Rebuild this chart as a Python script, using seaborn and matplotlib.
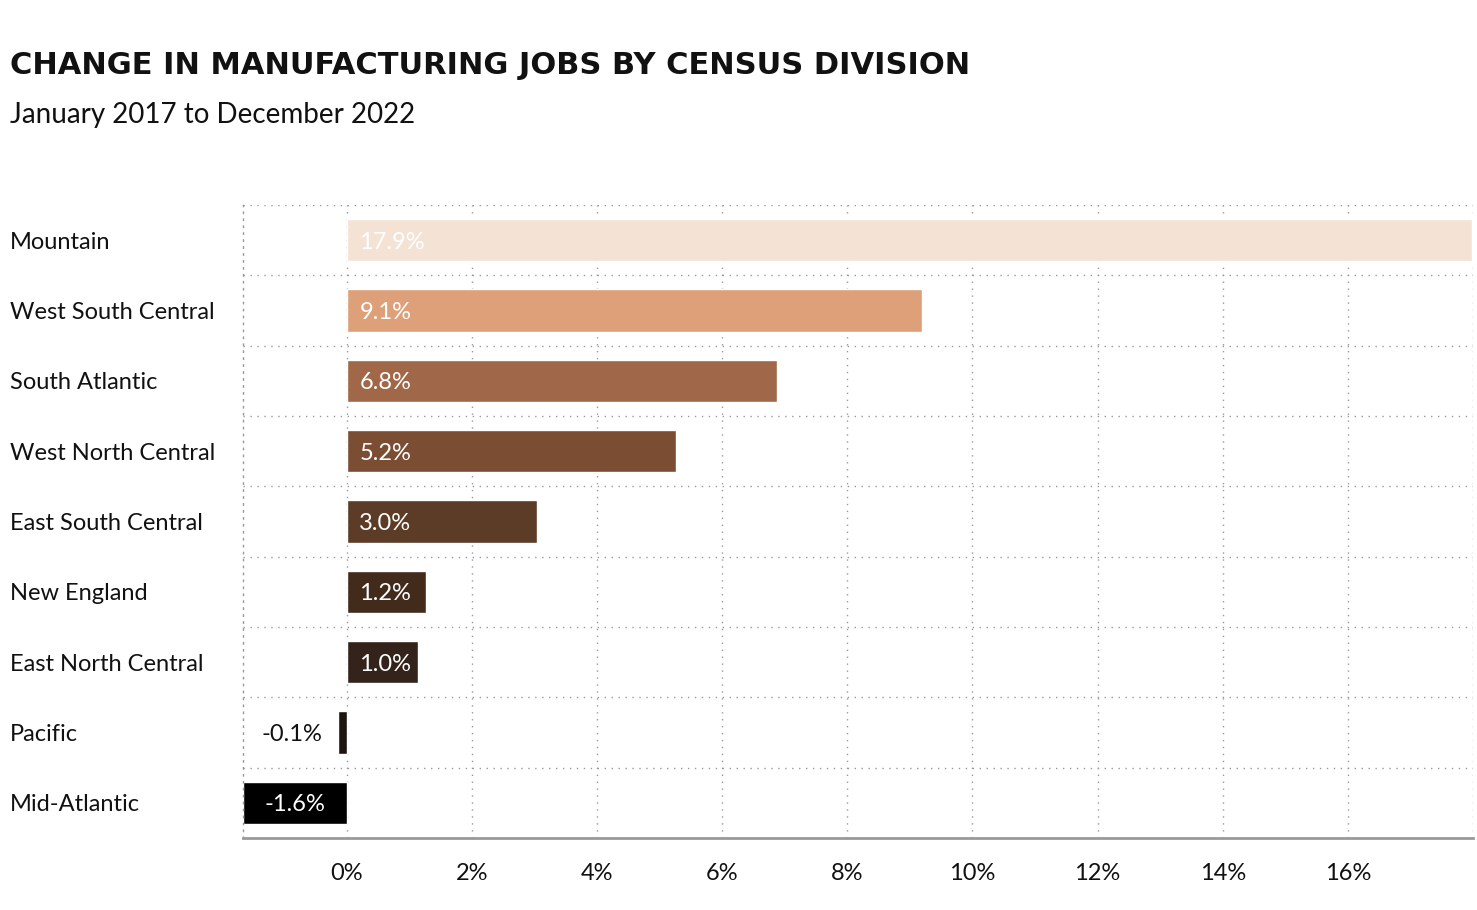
import matplotlib
matplotlib.use("Agg")
import matplotlib.pyplot as plt
import seaborn as sns
import pandas as pd

divisions = ["Mountain", "West South Central", "South Atlantic", "West North Central",
             "East South Central", "New England", "East North Central", "Pacific", "Mid-Atlantic"]
changes = [17.98, 9.19, 6.87, 5.26, 3.04, 1.26, 1.13, -0.14, -1.66]
labels = ["17.9%", "9.1%", "6.8%", "5.2%", "3.0%", "1.2%", "1.0%", "-0.1%", "-1.6%"]
colors = ["#F4E2D5", "#DDA078", "#A06848", "#7B4E33", "#5C3C26", "#432B1C", "#33231A", "#1E1510", "#000000"]
xticks = [0, 2, 4, 6, 8, 10, 12, 14, 16]
xticklabels = ["0%", "2%", "4%", "6%", "8%", "10%", "12%", "14%", "16%"]

sns.set_theme(style="white")
plt.rcParams['font.family'] = ['Lato', 'DejaVu Sans']

df = pd.DataFrame({"division": divisions, "change": changes})

fig = plt.figure(figsize=(14.77, 9.10), dpi=100)
ax = fig.add_axes([243/1477, 72/910, (1473-243)/1477, (838-205)/910])

sns.barplot(data=df, x="change", y="division", hue="division", palette=colors,
            order=divisions, hue_order=divisions, orient="h", width=0.6,
            legend=False, ax=ax, saturation=1)

ax.set_xlim(-1.66, 18.0)
ax.set_ylim(len(divisions) - 0.5, -0.5)
ax.set_xlabel("")
ax.set_ylabel("")

# grid
for xv in xticks + [18]:
    ax.axvline(xv, color="#999999", lw=1.0, ls=(0, (1, 4)), zorder=0)
for i in range(len(divisions)):
    ax.axhline(i - 0.5, color="#999999", lw=1.0, ls=(0, (1, 4)), zorder=0)

for s in ["top", "right"]:
    ax.spines[s].set_visible(False)
ax.spines["left"].set_color("#999999")
ax.spines["left"].set_linestyle((0, (1, 4)))
ax.spines["left"].set_linewidth(1.0)
ax.spines["bottom"].set_color("#999999")
ax.spines["bottom"].set_linewidth(2)

ax.set_xticks(xticks)
ax.set_xticklabels(xticklabels, fontsize=17, color="#111111")
ax.tick_params(axis="x", length=0, pad=18)
ax.set_yticks(range(len(divisions)))
ax.set_yticklabels([])
ax.tick_params(axis="y", length=0)

for i, (d, v, lab) in enumerate(zip(divisions, changes, labels)):
    ax.annotate(d, xy=(0, i), xycoords=("figure fraction", "data"), xytext=(10, -2),
                textcoords="offset pixels", ha="left", va="center", fontsize=17, color="#111111")
    if v >= 0.5:
        ax.annotate(lab, xy=(0.2, i), xytext=(0, -2), textcoords="offset pixels",
                    ha="left", va="center", fontsize=17, color="white")
    elif v < -1:
        ax.annotate(lab, xy=(v / 2, i), xytext=(0, -2), textcoords="offset pixels",
                    ha="center", va="center", fontsize=17, color="white")
    else:
        ax.annotate(lab, xy=(v - 0.25, i), xytext=(0, -2), textcoords="offset pixels",
                    ha="right", va="center", fontsize=17, color="#111111")

fig.text(10/1477, 1 - 66/910, "CHANGE IN MANUFACTURING JOBS BY CENSUS DIVISION",
         fontsize=22, fontweight="bold", color="#111111", ha="left", va="center",
         family=["DejaVu Sans"])
fig.text(10/1477, 1 - 115/910, "January 2017 to December 2022",
         fontsize=20, color="#111111", ha="left", va="center")

fig.savefig("out.png", dpi=100)
